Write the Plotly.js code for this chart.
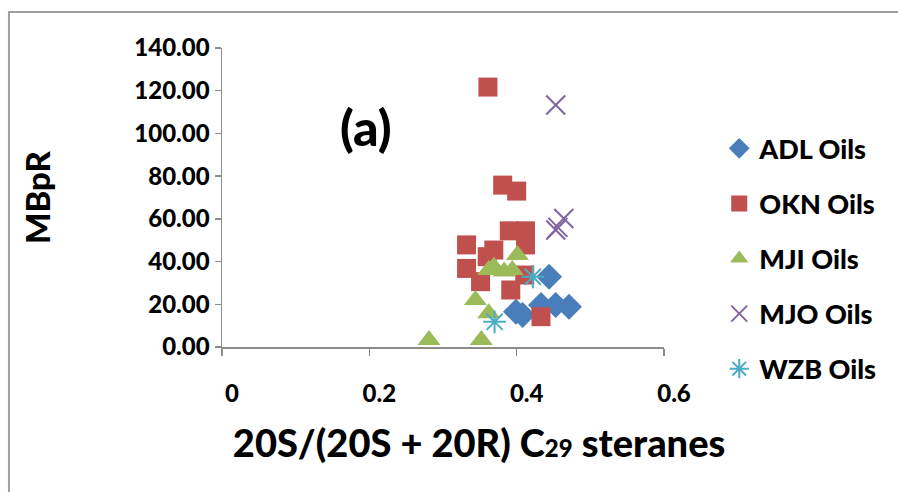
<!DOCTYPE html>
<html>
<head>
<meta charset="utf-8">
<script src="https://cdn.plot.ly/plotly-3.0.1.min.js"></script>
<style>html,body{margin:0;padding:0;background:#fff;}#chart{width:898px;height:492px;}</style>
</head>
<body>
<div id="chart"></div>
<script>
// Data
const adlX = [0.399, 0.408, 0.433, 0.453, 0.471, 0.444];
const adlY = [16.5, 15.0, 19.7, 19.7, 18.9, 32.9];

const oknX = [0.361, 0.381, 0.400, 0.390, 0.412, 0.412, 0.332, 0.369, 0.360, 0.332, 0.351, 0.411, 0.392, 0.433];
const oknY = [121.7, 75.8, 73.0, 54.4, 54.4, 47.8, 47.8, 45.4, 42.3, 36.8, 30.6, 33.7, 26.7, 14.2];

const mjiX = [0.281, 0.352, 0.344, 0.362, 0.401, 0.369, 0.362, 0.383, 0.394];
const mjiY = [3.3, 3.3, 22.0, 15.8, 43.1, 37.6, 36.0, 35.3, 36.0];

const mjoX = [0.453, 0.464, 0.453, 0.456];
const mjoY = [113.3, 60.2, 54.8, 56.0];

const wzbX = [0.422, 0.370];
const wzbY = [32.9, 11.8];

const seriesNames = ["ADL Oils", "OKN Oils", "MJI Oils", "MJO Oils", "WZB Oils"];
const xTickVals = [0, 0.2, 0.4, 0.6];
const xTickText = ["0", "0.2", "0.4", "0.6"];

const FONT = "Lato, 'Open Sans', sans-serif";
const W = 900;

const traces = [
  {x: adlX, y: adlY, name: seriesNames[0], mode: "markers", type: "scatter", legendgroup: "a",
   marker: {symbol: "diamond", size: 20, color: "#4A7EBB"}},
  {x: oknX, y: oknY, name: seriesNames[1], mode: "markers", type: "scatter", legendgroup: "b",
   marker: {symbol: "square", size: 19, color: "#C0504D"}},
  {x: mjiX, y: mjiY, name: seriesNames[2], mode: "markers", type: "scatter", legendgroup: "c",
   marker: {symbol: "triangle-up", size: 20, color: "#9BBB59"}},
  {x: mjoX, y: mjoY, name: seriesNames[3], mode: "markers", type: "scatter", legendgroup: "d",
   marker: {symbol: "x-thin-open", size: 19, color: "#8064A2", line: {width: 2, color: "#8064A2"}}},
  {x: wzbX, y: wzbY, name: seriesNames[4], mode: "markers", type: "scatter", legendgroup: "e",
   marker: {symbol: "asterisk-open", size: 19, color: "#4BACC6", line: {width: 2, color: "#4BACC6"}}}
];

const layout = {
  width: 898, height: 492,
  margin: {l: 222, r: 234, t: 48, b: 145},
  paper_bgcolor: "#ffffff", plot_bgcolor: "#ffffff",
  font: {family: FONT, color: "#000", size: 22},
  showlegend: true,
  legend: {x: 1.125, y: 0.745, xanchor: "left", yanchor: "top", tracegroupgap: 17,
           font: {family: FONT, size: 27, weight: W, color: "#000"}, bgcolor: "rgba(0,0,0,0)"},
  xaxis: {
    range: [0, 0.6], tickvals: xTickVals, ticktext: xTickText,
    showgrid: false, zeroline: false, showline: true, linecolor: "#8c8c8c", linewidth: 1.5,
    ticks: "outside", ticklen: 7, tickcolor: "#8c8c8c", tickwidth: 1.5,
    ticklabelstandoff: 18, ticklabelshift: 10,
    tickfont: {family: FONT, size: 24, weight: W, color: "#000"},
    title: {text: "&nbsp;&nbsp;&nbsp;&nbsp;&nbsp;&nbsp;&nbsp;&nbsp;20S/(20S + 20R) C<span style=\"font-size:24px\">29</span> steranes",
            font: {family: FONT, size: 38, weight: W, color: "#000"}, standoff: 24}
  },
  yaxis: {
    range: [0, 140], dtick: 20, tick0: 0, tickformat: ".2f",
    showgrid: false, zeroline: false, showline: true, linecolor: "#8c8c8c", linewidth: 1.5,
    ticks: "outside", ticklen: 6, tickcolor: "#8c8c8c", tickwidth: 1.5,
    tickfont: {family: FONT, size: 24, weight: W, color: "#000"},
    title: {text: "MBpR", font: {family: FONT, size: 33, weight: W, color: "#000"}, standoff: 74}
  },
  annotations: [
    {xref: "paper", yref: "paper", x: 0.325, y: 0.735, xanchor: "center", yanchor: "middle",
     text: "(a)", showarrow: false, font: {family: FONT, size: 50, weight: W, color: "#000"}}
  ],
  shapes: [
    {type: "rect", xref: "paper", yref: "paper", x0: -0.482, x1: 1.7, y0: -0.6, y1: 1.12,
     line: {color: "#a0a0a0", width: 2}, fillcolor: "rgba(0,0,0,0)"}
  ]
};

Plotly.newPlot("chart", traces, layout, {displayModeBar: false, staticPlot: true});
</script>
</body>
</html>
